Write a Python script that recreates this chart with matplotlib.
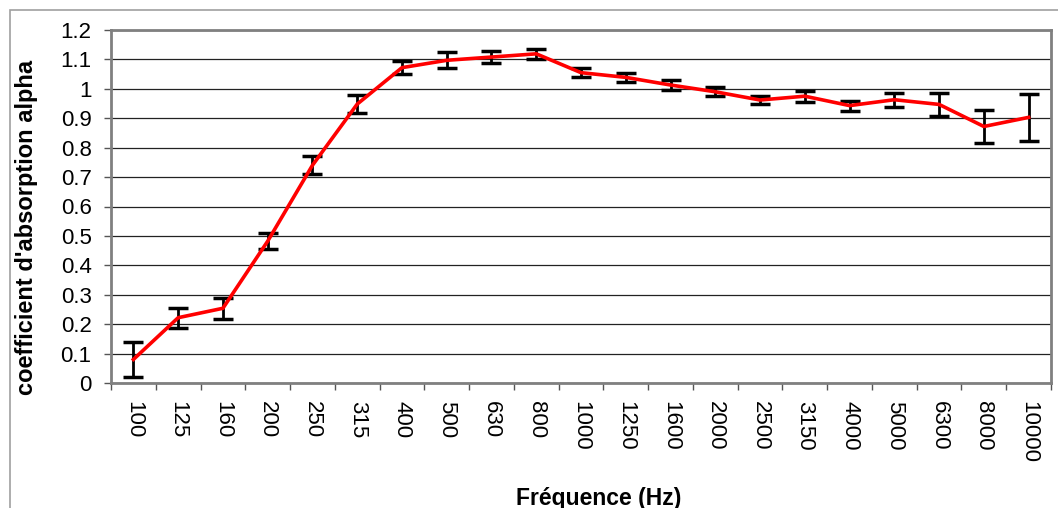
import numpy as np
import matplotlib.pyplot as plt
from matplotlib.patches import Rectangle

plt.rcParams['font.family'] = ['Liberation Sans', 'DejaVu Sans']

freqs = ["100", "125", "160", "200", "250", "315", "400", "500", "630", "800",
         "1000", "1250", "1600", "2000", "2500", "3150", "4000", "5000", "6300",
         "8000", "10000"]
alpha = [0.08, 0.222, 0.254, 0.482, 0.74, 0.948, 1.072, 1.097, 1.108, 1.119,
         1.055, 1.039, 1.013, 0.99, 0.962, 0.975, 0.943, 0.963, 0.947,
         0.872, 0.903]
err = [0.06, 0.034, 0.035, 0.027, 0.03, 0.03, 0.023, 0.027, 0.021, 0.018,
       0.015, 0.016, 0.017, 0.015, 0.013, 0.019, 0.017, 0.024, 0.039,
       0.056, 0.079]

fig = plt.figure(figsize=(10.58, 5.08), dpi=100)
ax = fig.add_axes([111/1058, 1-383/508, 940/1058, 353/508])

# cadre exterieur
fig.patches.append(Rectangle((10/1058, -0.1), 1.2, (1-10/508)+0.1,
                             transform=fig.transFigure, fill=False,
                             edgecolor='#a0a0a0', linewidth=1.2))

x = np.arange(len(freqs))
ax.errorbar(x, alpha, yerr=err, fmt='none', ecolor='black', elinewidth=2,
            capsize=7, capthick=2.5, zorder=3)
ax.plot(x, alpha, color='#ff0000', linewidth=2.6, zorder=4)

ax.set_xlim(-0.5, len(freqs) - 0.5)
ax.set_ylim(0, 1.2)
ax.set_yticks(np.arange(0, 1.21, 0.1))
ax.set_yticklabels(["0"] + [f"{v:.1f}" for v in np.arange(0.1, 0.95, 0.1)]
                   + ["1", "1.1", "1.2"])
ax.set_xticks(x)
ax.set_xticklabels(freqs, rotation=270)
ax.set_xticks(np.arange(-0.5, len(freqs)), minor=True)
ax.tick_params(axis='x', which='major', length=0, pad=13, labelsize=16)
ax.tick_params(axis='x', which='minor', length=5, width=1, color='#555555')
ax.tick_params(axis='y', length=5, width=1, color='#555555', labelsize=16, pad=9)

ax.yaxis.grid(True, color='#222222', linewidth=0.9)
ax.set_axisbelow(True)
for s in ax.spines.values():
    s.set_color('#808080')
    s.set_linewidth(2)

fig.text(27/1058, 1-227/508, "coefficient d'absorption alpha", rotation=90,
         ha='center', va='center', fontsize=17, fontweight='bold')
fig.text(599/1058, 3/508, "Fréquence (Hz)", ha='center', va='baseline',
         fontsize=16.5, fontweight='bold')

fig.savefig("out.png", dpi=100)
